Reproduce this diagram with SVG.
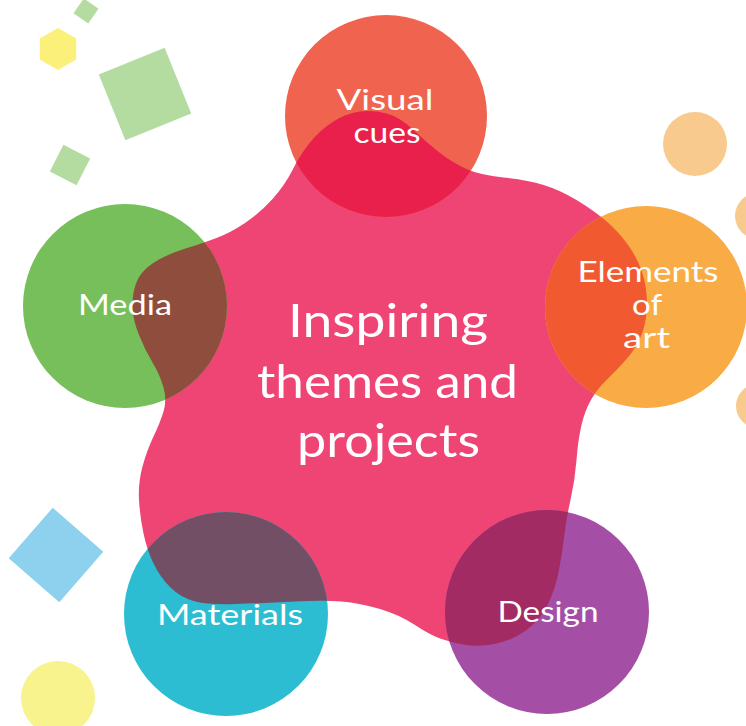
<svg xmlns="http://www.w3.org/2000/svg" xmlns:xlink="http://www.w3.org/1999/xlink" width="746" height="726" viewBox="0 0 746 726">
<style>
  .lbl{font-family:"Lato","Liberation Sans",sans-serif;fill:#ffffff;text-anchor:middle;font-size:28px;}
  .big{font-family:"Lato","Liberation Sans",sans-serif;fill:#ffffff;text-anchor:middle;font-size:46px;}
  .sq{fill:#b5dca0;}
</style>
<defs>
  <path id="blob" d="M360,111.5 Q373,110 386.5,113.5 Q400,117 413.5,130 Q427,143 440,153 Q453,163 466.5,169 Q480,175 503.5,177.5 Q527,180 543.5,185 Q560,190 576.5,200 Q593,210 605,220 Q617,230 627,243.5 Q637,257 642,272 Q647,287 647,303.5 Q647,320 642,333.5 Q637,347 627,358.5 Q617,370 607.5,379 Q598,388 591.5,399 Q585,410 581.5,425 Q578,440 576.5,460 Q575,480 570.5,500 Q566,520 564,537.5 Q562,555 558.5,572.5 Q555,590 547.5,605 Q540,620 526.5,630 Q513,640 496.5,643.5 Q480,647 466.5,645 Q453,643 441.5,639 Q430,635 415,625 Q400,615 380,609 Q360,603 341.5,601.5 Q323,600 295,601.5 Q267,603 237,604 Q207,605 193.5,601 Q180,597 170,587 Q160,577 153.5,563.5 Q147,550 143.5,533.5 Q140,517 139,500 Q138,483 142.5,466.5 Q147,450 153.5,436.5 Q160,423 163.5,411.5 Q167,400 163.5,387.5 Q160,375 152.5,362.5 Q145,350 139,335 Q133,320 132.5,307.5 Q132,295 136,283.5 Q140,272 152.5,263.5 Q165,255 184,249 Q203,243 216.5,238 Q230,233 245,223 Q260,213 272.5,199 Q285,185 292.5,170 Q300,155 310,142.5 Q320,130 333.5,121.5 Q347,113 360,111.5 Z"/>
  <clipPath id="cVisual"><circle cx="386" cy="116" r="101"/></clipPath>
  <clipPath id="cMedia"><circle cx="125" cy="306" r="102"/></clipPath>
  <clipPath id="cElements"><circle cx="646" cy="307" r="101"/></clipPath>
  <clipPath id="cMaterials"><circle cx="226" cy="614" r="102"/></clipPath>
  <clipPath id="cDesign"><circle cx="547" cy="612" r="102"/></clipPath>
</defs>

<g id="decorations">
  <rect class="sq" x="77" y="2" width="18" height="18" transform="rotate(35 86 11)"/>
  <polygon points="58,28 76.2,38.5 76.2,59.5 58,70 39.8,59.5 39.8,38.5" fill="#fbf07a"/>
  <rect class="sq" x="109.5" y="58.5" width="71" height="71" transform="rotate(-22 145 94)"/>
  <rect class="sq" x="55" y="150" width="30" height="30" transform="rotate(27 70 165)"/>
  <rect x="22.5" y="521.5" width="67" height="67" fill="#8dd1ef" transform="rotate(41 56 555)"/>
  <circle cx="58" cy="698" r="37" fill="#f8f38d"/>
  <circle cx="695" cy="144" r="32" fill="#f9ca8e"/>
  <circle cx="758" cy="216" r="23" fill="#f9ca8e"/>
  <circle cx="758" cy="406" r="22" fill="#f9ca8e"/>
</g>

<g id="center">
  <use xlink:href="#blob" fill="#ee4575"/>
</g>

<g id="visual-cues">
  <circle cx="386" cy="116" r="101" fill="#ef634f"/>
  <use xlink:href="#blob" fill="#e9204b" clip-path="url(#cVisual)"/>
  <text class="lbl" x="385" y="110" textLength="97" lengthAdjust="spacingAndGlyphs">Visual</text>
  <text class="lbl" x="387" y="143" textLength="67" lengthAdjust="spacingAndGlyphs">cues</text>
</g>

<g id="media">
  <circle cx="125" cy="306" r="102" fill="#77bf5b"/>
  <use xlink:href="#blob" fill="#8e4d3d" clip-path="url(#cMedia)"/>
  <text class="lbl" x="125" y="315" textLength="94" lengthAdjust="spacingAndGlyphs">Media</text>
</g>

<g id="elements-of-art">
  <circle cx="646" cy="307" r="101" fill="#f9ab45"/>
  <use xlink:href="#blob" fill="#f15a30" clip-path="url(#cElements)"/>
  <text class="lbl" x="648" y="282" textLength="141" lengthAdjust="spacingAndGlyphs">Elements</text>
  <text class="lbl" x="647" y="315" textLength="30" lengthAdjust="spacingAndGlyphs">of</text>
  <text class="lbl" x="646.5" y="348" textLength="47" lengthAdjust="spacingAndGlyphs">art</text>
</g>

<g id="materials">
  <circle cx="226" cy="614" r="102" fill="#2dbdd3"/>
  <use xlink:href="#blob" fill="#734f66" clip-path="url(#cMaterials)"/>
  <text class="lbl" x="230" y="625" textLength="146" lengthAdjust="spacingAndGlyphs">Materials</text>
</g>

<g id="design">
  <circle cx="547" cy="612" r="102" fill="#a44fa5"/>
  <use xlink:href="#blob" fill="#a22b63" clip-path="url(#cDesign)"/>
  <text class="lbl" x="548" y="622" textLength="101" lengthAdjust="spacingAndGlyphs">Design</text>
</g>

<g id="center-label">
  <text class="big" x="388" y="337" textLength="200" lengthAdjust="spacingAndGlyphs">Inspiring</text>
  <text class="big" x="387.5" y="398" textLength="261" lengthAdjust="spacingAndGlyphs">themes and</text>
  <text class="big" x="388.5" y="457" textLength="183" lengthAdjust="spacingAndGlyphs">projects</text>
</g>

<g id="connectors"></g>
</svg>
